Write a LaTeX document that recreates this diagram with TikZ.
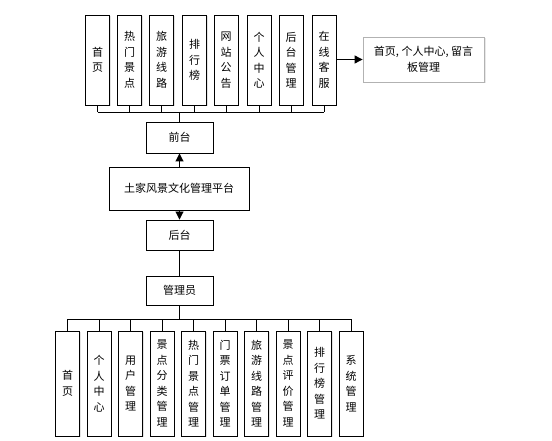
\documentclass[tikz,border=0pt]{standalone}
\usepackage{fontspec}
\setmainfont{Noto Sans CJK SC}
\usetikzlibrary{arrows.meta,shadows}
\begin{document}
\begin{tikzpicture}[x=1pt,y=-1pt,
  every node/.style={font=\fontsize{11}{15.5}\selectfont, inner sep=0pt, align=center},
  box/.style={draw=black, line width=0.9pt, fill=white,
    drop shadow={shadow xshift=1pt, shadow yshift=-1.2pt, fill=black!18, opacity=0.6}},
  tbox/.style={box, minimum width=24pt, minimum height=90pt},
  bbox/.style={box, minimum width=24pt, minimum height=105pt},
  hbox/.style={box, minimum width=67pt, minimum height=30pt},
  gbox/.style={draw=black!30, line width=0.8pt, fill=white,
    drop shadow={shadow xshift=1.5pt, shadow yshift=-1.5pt, fill=black!15, opacity=0.6},
    minimum width=121pt, minimum height=45pt},
  conn/.style={line width=0.9pt},
  arr/.style={line width=0.9pt, -{Triangle[length=8pt,width=8pt]}}
]
\useasboundingbox (0,0) rectangle (552,441);

% top row
\node[tbox] (t1) at (97.5,60) {首\\页};
\node[tbox] (t2) at (129.5,60) {热\\门\\景\\点};
\node[tbox] (t3) at (161.5,60) {旅\\游\\线\\路};
\node[tbox] (t4) at (194.5,60) {排\\行\\榜};
\node[tbox] (t5) at (226,60) {网\\站\\公\\告};
\node[tbox] (t6) at (259,60) {个\\人\\中\\心};
\node[tbox] (t7) at (291,60) {后\\台\\管\\理};
\node[tbox] (t8) at (324,60) {在\\线\\客\\服};

\node[gbox] (g) at (423.5,59.5) {首页, 个人中心, 留言\\板管理};
\draw[arr] (t8.east |- g.west) -- (g.west);

% middle
\node[hbox, minimum height=31pt] (fr) at (179.5,137.5) {前台};
\node[box, minimum width=140pt, minimum height=43pt] (pf) at (179,188.5) {土家风景文化管理平台};
\node[hbox] (bk) at (179.5,235) {后台};
\node[hbox, minimum height=29pt] (adm) at (179.5,290.5) {管理员};

\coordinate (tb) at (179.5,112);
\foreach \i in {1,...,8} { \draw[conn] (t\i.south) -- (t\i.south |- tb); }
\draw[conn] (t1.south |- tb) -- (t8.south |- tb);
\draw[conn] (tb) -- (fr.north);

\draw[arr] (pf.north -| fr.south) -- (fr.south);
\draw[arr] (pf.south -| bk.north) -- (bk.north);
\draw[conn] (bk.south) -- (adm.north);

% bottom row
\node[bbox] (b1) at (67.5,383.5) {首\\页};
\node[bbox] (b2) at (99,383.5) {个\\人\\中\\心};
\node[bbox] (b3) at (130.5,383.5) {用\\户\\管\\理};
\node[bbox] (b4) at (162,383.5) {景\\点\\分\\类\\管\\理};
\node[bbox] (b5) at (193.5,383.5) {热\\门\\景\\点\\管\\理};
\node[bbox] (b6) at (225,383.5) {门\\票\\订\\单\\管\\理};
\node[bbox] (b7) at (256.5,383.5) {旅\\游\\线\\路\\管\\理};
\node[bbox] (b8) at (288,383.5) {景\\点\\评\\价\\管\\理};
\node[bbox] (b9) at (319.5,383.5) {排\\行\\榜\\管\\理};
\node[bbox] (b10) at (351,383.5) {系\\统\\管\\理};

\coordinate (bb) at (179.5,319);
\draw[conn] (adm.south) -- (bb);
\draw[conn] (b1.north |- bb) -- (b10.north |- bb);
\foreach \i in {1,...,10} { \draw[conn] (b\i.north |- bb) -- (b\i.north); }
\end{tikzpicture}
\end{document}
